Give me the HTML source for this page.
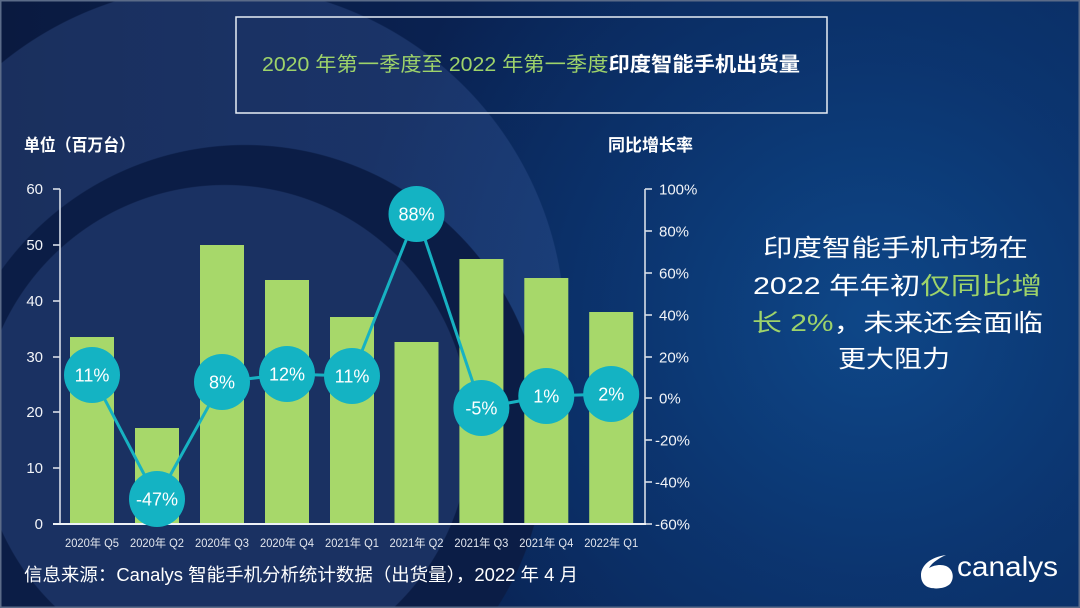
<!DOCTYPE html>
<html><head><meta charset="utf-8"><style>
html,body{margin:0;padding:0;width:1080px;height:608px;overflow:hidden;background:#0a1c44;}
#wrap{position:relative;width:1080px;height:608px;overflow:hidden;
background:
radial-gradient(circle at 225px 430px, rgba(58,90,154,0.33) 244.5px, rgba(58,90,154,0) 245.5px),
radial-gradient(circle at 245px 445px, #0b1d46 299.5px, rgba(11,29,70,0) 300.5px),
radial-gradient(circle at 220px 330px, rgba(58,90,154,0.33) 344.5px, rgba(58,90,154,0) 345.5px),
radial-gradient(circle at 870px 320px, rgba(14,71,136,1) 0px, rgba(12,58,120,0.7) 260px, rgba(10,42,94,0) 520px),
linear-gradient(90deg, #0a1a40 0%, #0a2252 45%, #0a2a5e 100%);
}
svg{display:block;position:absolute;left:0;top:0;}
text{font-family:"Liberation Sans","Noto Sans CJK SC",sans-serif;}
</style></head><body>
<div id="wrap">
<svg width="1080" height="608" viewBox="0 0 1080 608" xmlns="http://www.w3.org/2000/svg">
<rect x="0.75" y="0.75" width="1078.5" height="606.5" fill="none" stroke="#5b6b88" stroke-width="1.5"/>

<!-- title box -->
<rect x="236" y="17" width="591" height="96" fill="none" stroke="#e8eef5" stroke-width="1.5"/>
<text x="262" y="71" font-size="20" textLength="538" lengthAdjust="spacingAndGlyphs"><tspan fill="#9ed36a">2020 年第一季度至 2022 年第一季度</tspan><tspan fill="#ffffff" font-weight="bold">印度智能手机出货量</tspan></text>

<!-- axis titles -->
<text x="24" y="151" font-size="17" font-weight="bold" fill="#ffffff" textLength="111" lengthAdjust="spacingAndGlyphs">单位（百万台）</text>
<text x="608" y="151" font-size="17" font-weight="bold" fill="#ffffff" textLength="85" lengthAdjust="spacingAndGlyphs">同比增长率</text>

<!-- bars -->
<g fill="#a7d86a">
<rect x="70" y="337" width="44" height="187"/>
<rect x="135" y="428" width="44" height="96"/>
<rect x="200" y="245" width="44" height="279"/>
<rect x="265" y="280" width="44" height="244"/>
<rect x="330" y="317" width="44" height="207"/>
<rect x="394.5" y="342" width="44" height="182"/>
<rect x="459.4" y="259" width="44" height="265"/>
<rect x="524.3" y="278" width="44" height="246"/>
<rect x="589.2" y="312" width="44" height="212"/>
</g>

<!-- axes -->
<g stroke="#d8dee8" stroke-width="1.6" fill="none">
<line x1="60" y1="189" x2="60" y2="524"/>
<line x1="53" y1="189" x2="60" y2="189"/>
<line x1="53" y1="245" x2="60" y2="245"/>
<line x1="53" y1="301" x2="60" y2="301"/>
<line x1="53" y1="357" x2="60" y2="357"/>
<line x1="53" y1="412" x2="60" y2="412"/>
<line x1="53" y1="468" x2="60" y2="468"/>
<line x1="645" y1="189" x2="645" y2="524"/>
<line x1="645" y1="189" x2="652" y2="189"/>
<line x1="645" y1="231" x2="652" y2="231"/>
<line x1="645" y1="273" x2="652" y2="273"/>
<line x1="645" y1="315" x2="652" y2="315"/>
<line x1="645" y1="357" x2="652" y2="357"/>
<line x1="645" y1="398" x2="652" y2="398"/>
<line x1="645" y1="440" x2="652" y2="440"/>
<line x1="645" y1="482" x2="652" y2="482"/>
<line x1="645" y1="524" x2="652" y2="524"/>
</g>
<line x1="53" y1="524" x2="646" y2="524" stroke="#eef2f7" stroke-width="2"/>

<!-- left axis labels -->
<g font-size="15" fill="#f2f4f8" text-anchor="end">
<text x="43" y="194">60</text>
<text x="43" y="250">50</text>
<text x="43" y="306">40</text>
<text x="43" y="362">30</text>
<text x="43" y="417">20</text>
<text x="43" y="473">10</text>
<text x="43" y="529">0</text>
</g>
<!-- right axis labels -->
<g font-size="15" fill="#f2f4f8">
<text x="659" y="194.5">100%</text>
<text x="659" y="236.5">80%</text>
<text x="659" y="278.5">60%</text>
<text x="659" y="320.5">40%</text>
<text x="659" y="362.5">20%</text>
<text x="659" y="403.5">0%</text>
<text x="655" y="445.5">-20%</text>
<text x="655" y="487.5">-40%</text>
<text x="655" y="529.5">-60%</text>
</g>

<!-- x labels -->
<g font-size="11.5" fill="#e2e6ee" text-anchor="middle">
<text x="92" y="547" textLength="54" lengthAdjust="spacingAndGlyphs">2020年 Q5</text>
<text x="157" y="547" textLength="54" lengthAdjust="spacingAndGlyphs">2020年 Q2</text>
<text x="222" y="547" textLength="54" lengthAdjust="spacingAndGlyphs">2020年 Q3</text>
<text x="287" y="547" textLength="54" lengthAdjust="spacingAndGlyphs">2020年 Q4</text>
<text x="352" y="547" textLength="54" lengthAdjust="spacingAndGlyphs">2021年 Q1</text>
<text x="416.5" y="547" textLength="54" lengthAdjust="spacingAndGlyphs">2021年 Q2</text>
<text x="481.4" y="547" textLength="54" lengthAdjust="spacingAndGlyphs">2021年 Q3</text>
<text x="546.3" y="547" textLength="54" lengthAdjust="spacingAndGlyphs">2021年 Q4</text>
<text x="611.2" y="547" textLength="54" lengthAdjust="spacingAndGlyphs">2022年 Q1</text>
</g>

<!-- growth line -->
<polyline points="92,375 157,499 222,382 287,374 352,376 416.5,214 481.4,408 546.3,396 611.2,394" fill="none" stroke="#17b2c2" stroke-width="3"/>
<g fill="#14b3c3">
<circle cx="92" cy="375" r="28"/>
<circle cx="157" cy="499" r="28"/>
<circle cx="222" cy="382" r="28"/>
<circle cx="287" cy="374" r="28"/>
<circle cx="352" cy="376" r="28"/>
<circle cx="416.5" cy="214" r="28"/>
<circle cx="481.4" cy="408" r="28"/>
<circle cx="546.3" cy="396" r="28"/>
<circle cx="611.2" cy="394" r="28"/>
</g>
<g font-size="18" fill="#ffffff" text-anchor="middle">
<text x="92" y="381.5">11%</text>
<text x="157" y="505.5">-47%</text>
<text x="222" y="388.5">8%</text>
<text x="287" y="380.5">12%</text>
<text x="352" y="382.5">11%</text>
<text x="416.5" y="220.5">88%</text>
<text x="481.4" y="414.5">-5%</text>
<text x="546.3" y="402.5">1%</text>
<text x="611.2" y="400.5">2%</text>
</g>

<!-- right commentary -->
<g font-size="24" fill="#ffffff">
<text x="763" y="256" textLength="265" lengthAdjust="spacingAndGlyphs">印度智能手机市场在</text>
<text x="753" y="294" textLength="289" lengthAdjust="spacingAndGlyphs">2022 年年初<tspan fill="#9ed36a">仅同比增</tspan></text>
<text x="752" y="331" textLength="291" lengthAdjust="spacingAndGlyphs"><tspan fill="#9ed36a">长 2%</tspan>，未来还会面临</text>
<text x="838" y="367" textLength="112" lengthAdjust="spacingAndGlyphs">更大阻力</text>
</g>

<!-- footer -->
<text x="24" y="581" font-size="18" fill="#ffffff" textLength="554" lengthAdjust="spacingAndGlyphs">信息来源：Canalys 智能手机分析统计数据（出货量），2022 年 4 月</text>

<!-- logo -->
<path d="M921,575 C921,566 930,557 946,555 C937,559 931,564 929,568 C934,565 941,564 946,566 C953,569 955,578 950,584 C945,589 932,590 926,586 C922,583 921,579 921,575 Z" fill="#ffffff"/>
<text x="957" y="576" font-size="28" fill="#ffffff" textLength="101" lengthAdjust="spacingAndGlyphs">canalys</text>
</svg>
</div>
</body></html>
